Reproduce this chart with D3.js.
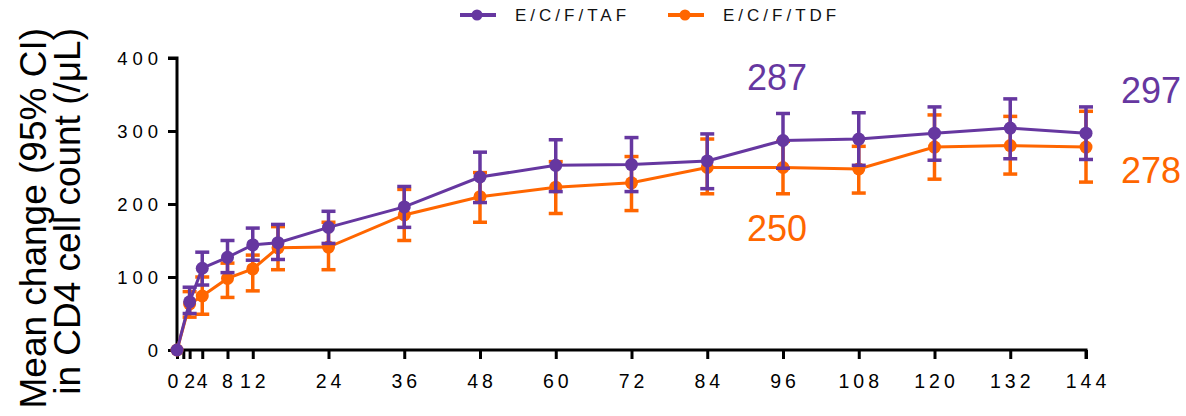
<!DOCTYPE html>
<html>
<head>
<meta charset="utf-8">
<script src="https://cdn.jsdelivr.net/npm/d3@7"></script>
<style>
  html, body { margin: 0; padding: 0; background: #fff; }
  svg { display: block; font-family: "Liberation Sans", Arial, sans-serif; }
</style>
</head>
<body>
<svg id="chart" width="1186" height="416"></svg>
<script>
// ---- Data ----
const months = [0, 2, 4, 8, 12, 16, 24, 36, 48, 60, 72, 84, 96, 108, 120, 132, 144];
const tafMean  = [0, 66, 112, 127, 144, 147, 168, 196, 237, 253, 254, 259, 287, 289, 297, 304, 297];
const tafLower = [0, 50, 89, 106, 123, 124, 146, 168, 202, 217, 217, 221, 249, 253, 260, 262, 261];
const tafUpper = [0, 86, 134, 150, 167, 172, 190, 224, 271, 288, 291, 296, 324, 325, 333, 344, 333];
const tdfMean  = [0, 63, 74, 98, 111, 140, 141, 185, 210, 223, 229, 250, 250, 248, 278, 280, 278];
const tdfLower = [0, 45, 49, 72, 81, 110, 110, 150, 175, 187, 191, 214, 214, 215, 234, 241, 230];
const tdfUpper = [0, 80, 100, 119, 130, 169, 175, 220, 243, 258, 265, 289, 286, 279, 322, 320, 327];
const xTickValues = [0, 1, 2, 4, 8, 12, 24, 36, 48, 60, 72, 84, 96, 108, 120, 132, 144];
const xTickLabels = [0, 2, 4, 8, 12, 24, 36, 48, 60, 72, 84, 96, 108, 120, 132, 144];
const yTickValues = [0, 100, 200, 300, 400];
const seriesNames = ["E/C/F/TAF", "E/C/F/TDF"];
const seriesColors = ["#6637a0", "#ff6600"];
const annotations = [
  { text: "287", month: 96, series: 0, at: "above" },
  { text: "250", month: 96, series: 1, at: "below" },
  { text: "297", month: 144, series: 0, at: "right" },
  { text: "278", month: 144, series: 1, at: "right" }
];
const yTitle = ["Mean change (95% CI)", "in CD4 cell count (/μL)"];

// ---- Layout ----
const svg = d3.select("#chart");
const x = d3.scaleLinear().domain([0, 144]).range([177, 1086]);
const y = d3.scaleLinear().domain([0, 400]).range([350, 58]);

// Axes
const yAxis = d3.axisLeft(y).tickValues(yTickValues).tickSize(9).tickPadding(0).tickFormat(() => "");
const gy = svg.append("g").attr("transform", "translate(177,0)").call(yAxis);
const xAxis = d3.axisBottom(x).tickValues(xTickValues).tickSize(9).tickPadding(0).tickFormat(() => "");
const gx = svg.append("g").attr("transform", "translate(0,350)").call(xAxis);
[gy, gx].forEach(g => {
  g.select(".domain").attr("stroke", "#000").attr("stroke-width", 3);
  g.selectAll(".tick line").attr("stroke", "#000").attr("stroke-width", 3);
});
gy.select(".domain").attr("d", "M-9," + y(400) + "H0V" + (y(0) + 1.5));
gx.select(".domain").attr("d", "M" + (x(0) - 1.5) + ",0H" + x(144) + "V9");

// Tick labels (letter-spaced)
const lsY = 5, lsX = 4;
svg.append("g").selectAll("text").data(yTickValues).join("text")
  .attr("x", 158 + lsY).attr("y", d => y(d)).attr("dy", "0.36em")
  .attr("text-anchor", "end").attr("font-size", 18.5).attr("letter-spacing", lsY)
  .attr("fill", "#000").text(d => d);
svg.append("g").selectAll("text").data(xTickLabels).join("text")
  .attr("x", d => x(d) + lsX / 2 - (d === 0 ? 4 : 0)).attr("y", 388)
  .attr("text-anchor", "middle").attr("font-size", 19.5).attr("letter-spacing", lsX)
  .attr("fill", "#000").text(d => d);

// Y title
const yt = svg.append("g").attr("transform", "rotate(-90)");
yt.append("text").attr("x", -28).attr("y", 46).attr("text-anchor", "end")
  .attr("font-size", 37).attr("fill", "#000").text(yTitle[0]);
yt.append("text").attr("x", -28).attr("y", 80).attr("text-anchor", "end")
  .attr("font-size", 37).attr("fill", "#000").text(yTitle[1]);

// Series
const series = [
  { mean: tafMean, lo: tafLower, hi: tafUpper },
  { mean: tdfMean, lo: tdfLower, hi: tdfUpper }
];
const line = d3.line().x(d => x(d.m)).y(d => y(d.v));
const capW = 7;
// draw orange first then purple on top
[1, 0].forEach(si => {
  const s = series[si], col = seriesColors[si];
  const pts = months.map((m, i) => ({ m, v: s.mean[i], lo: s.lo[i], hi: s.hi[i] }));
  const g = svg.append("g");
  g.append("path").datum(pts).attr("d", line).attr("fill", "none")
    .attr("stroke", col).attr("stroke-width", 3);
  const eb = g.selectAll("g.eb").data(pts.filter(p => p.m > 0)).join("g");
  eb.append("line").attr("x1", d => x(d.m)).attr("x2", d => x(d.m))
    .attr("y1", d => y(d.hi)).attr("y2", d => y(d.lo)).attr("stroke", col).attr("stroke-width", 3.5);
  eb.append("line").attr("x1", d => x(d.m) - capW).attr("x2", d => x(d.m) + capW)
    .attr("y1", d => y(d.hi)).attr("y2", d => y(d.hi)).attr("stroke", col).attr("stroke-width", 3.5);
  eb.append("line").attr("x1", d => x(d.m) - capW).attr("x2", d => x(d.m) + capW)
    .attr("y1", d => y(d.lo)).attr("y2", d => y(d.lo)).attr("stroke", col).attr("stroke-width", 3.5);
  g.selectAll("circle").data(pts).join("circle")
    .attr("cx", d => x(d.m)).attr("cy", d => y(d.v)).attr("r", 6.5).attr("fill", col);
});

// Annotations
annotations.forEach(a => {
  const i = months.indexOf(a.month);
  const v = series[a.series].mean[i];
  let tx, ty, anchor = "middle";
  if (a.at === "above") { tx = x(a.month) - 6; ty = y(v) - 50; }
  else if (a.at === "below") { tx = x(a.month) - 6; ty = y(v) + 73; }
  else { tx = x(a.month) + 35; ty = y(v) + (a.series === 0 ? -30 : 36); anchor = "start"; }
  svg.append("text").attr("x", tx).attr("y", ty).attr("text-anchor", anchor)
    .attr("font-size", 36).attr("fill", seriesColors[a.series]).text(a.text);
});

// Legend
const legend = [{ cx: 477, tx: 515 }, { cx: 685, tx: 723 }];
legend.forEach((l, i) => {
  const g = svg.append("g");
  g.append("line").attr("x1", l.cx - 17).attr("x2", l.cx + 19).attr("y1", 15).attr("y2", 15)
    .attr("stroke", seriesColors[i]).attr("stroke-width", 4);
  g.append("circle").attr("cx", l.cx).attr("cy", 15).attr("r", 5.5).attr("fill", seriesColors[i]);
  g.append("text").attr("x", l.tx).attr("y", 21).attr("font-size", 17).attr("letter-spacing", 4)
    .attr("fill", "#111").text(seriesNames[i]);
});
</script>
</body>
</html>
